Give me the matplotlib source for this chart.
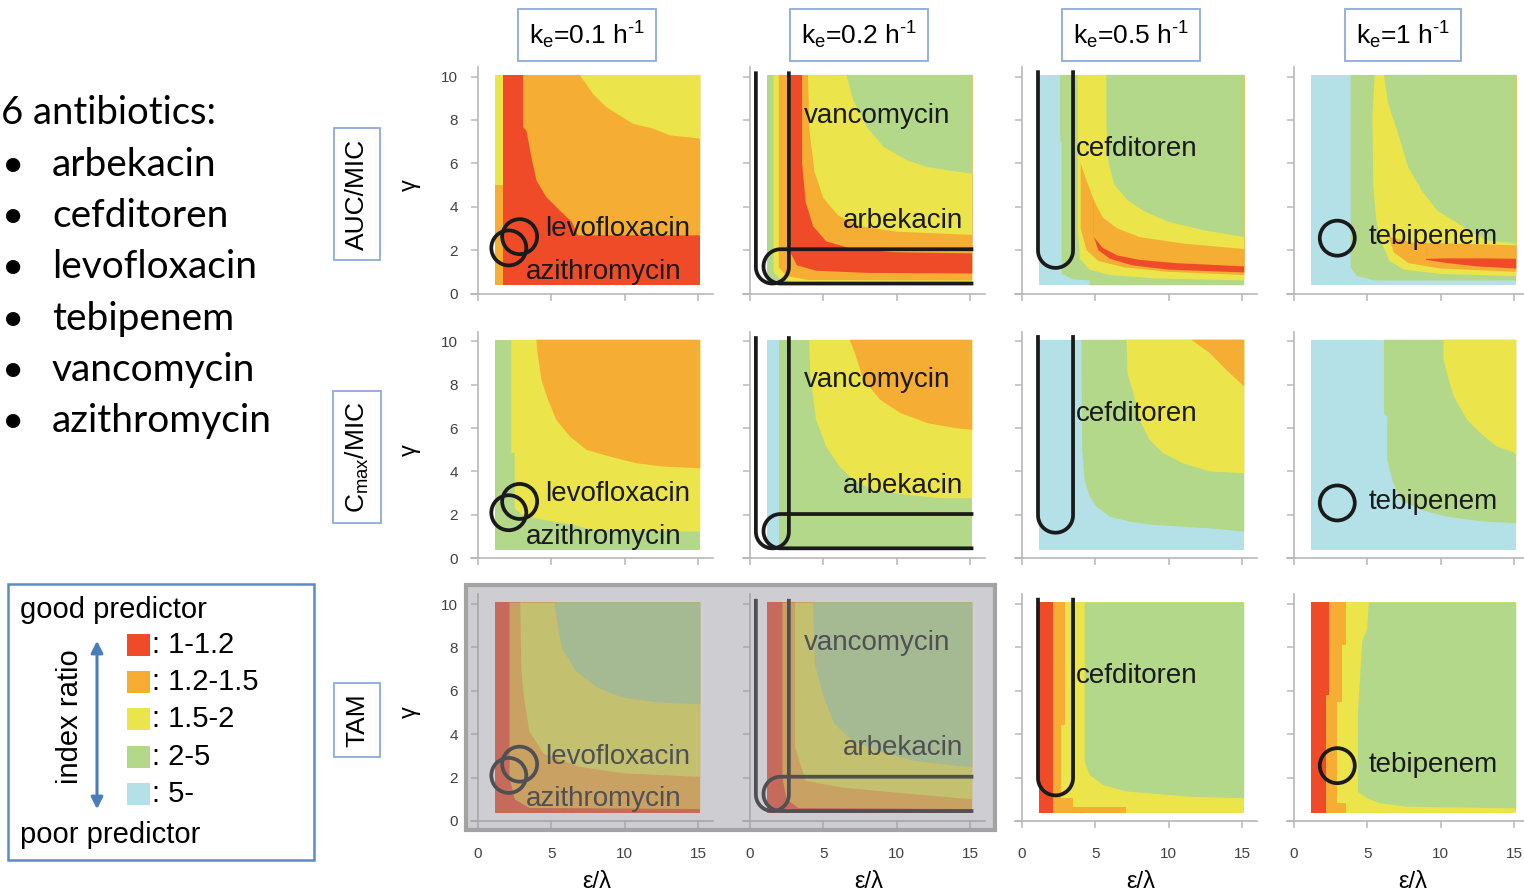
# 导入第三方库模块
import numpy as np
import matplotlib
matplotlib.use('Agg')
from matplotlib import pyplot as plt
from matplotlib.patches import Ellipse, Rectangle, FancyArrowPatch


# 画布尺寸（像素）
W, H = 1524, 894

# 全局字体设置
plt.rcParams['font.family'] = ['Liberation Sans', 'DejaVu Sans']
plt.rcParams['mathtext.default'] = 'regular'

# 计算区域的边界（ε/λ, γ）
X0, X1, Y0, Y1 = 1.15, 15.15, 0.38, 10.07

# 指标比值分级颜色
PALETTE = {
    'r': '#ef4b28', 'o': '#f5ad33', 'y': '#ebe54b',
    'g': '#b3d88a', 'b': '#b4e1e8',
}
LEVELS = ['r', 'o', 'y', 'g', 'b']
LEVEL_TEXT = [': 1-1.2', ': 1.2-1.5', ': 1.5-2', ': 2-5', ': 5-']

# 每一层：(颜色, 分界线)，分界线右上方填充该颜色
FULL = [(X0, Y1), (X0, Y0)]

AUC_KE01 = [
    ('o', FULL),
    ('y', [(X0, 4.98), (X1, 4.98)]),
    ('r', [(1.7, Y1), (1.7, Y0)]),
    ('o', [(3.07, Y1), (3.07, 7.67), (3.3, 7.5), (3.64, 6.29), (3.98, 5.21),
           (4.66, 4.44), (5.57, 3.83), (6.0, 3.55), (6.4, 3.3), (6.8, 2.68),
           (X1, 2.68)]),
    ('y', [(6.93, Y1), (7.84, 9.2), (8.75, 8.59), (9.66, 8.2), (10.57, 7.82),
           (11.93, 7.6), (13.07, 7.29), (X1, 7.14)]),
]
AUC_KE02 = [
    ('g', FULL),
    ('y', [(1.6, Y1), (1.6, 1.0), (2.0, 0.7), (3.0, 0.5), (X1, 0.45)]),
    ('o', [(1.96, Y1), (1.96, 1.2), (2.5, 0.8), (4.0, 0.62), (X1, 0.6)]),
    ('r', [(2.75, Y1), (2.75, 1.9), (3.2, 1.3), (4.5, 1.05), (8.0, 0.95),
           (X1, 0.92)]),
    ('o', [(3.55, Y1), (3.55, 6.0), (3.8, 4.2), (4.3, 3.1), (5.2, 2.4),
           (7.0, 2.05), (10.0, 1.9), (X1, 1.85)]),
    ('y', [(3.95, Y1), (4.05, 7.5), (4.4, 5.6), (5.0, 4.4), (6.0, 3.6),
           (7.5, 3.1), (10.0, 2.85), (X1, 2.7)]),
    ('g', [(6.58, Y1), (7.04, 8.9), (7.96, 7.67), (9.12, 6.75), (10.73, 6.13),
           (12.1, 5.83), (13.5, 5.67), (X1, 5.52)]),
]
AUC_KE05 = [
    ('b', FULL),
    ('g', [(2.6, Y1), (2.6, 7.0), (2.7, 7.0), (2.7, 0.9), (3.5, 0.65),
           (4.6, 0.6), (4.6, Y0)]),
    ('y', [(3.8, Y1), (3.8, 3.0), (3.95, 1.6), (4.6, 1.1), (6.0, 0.85),
           (9.0, 0.7), (X1, 0.6)]),
    ('o', [(4.0, 6.2), (4.0, 3.0), (4.4, 2.0), (5.2, 1.5), (7.0, 1.2),
           (10.0, 1.0), (X1, 0.85)]),
    ('r', [(4.9, 2.6), (5.2, 2.0), (6.0, 1.6), (7.5, 1.3), (10.0, 1.1),
           (X1, 0.97)]),
    ('o', [(4.9, Y1), (4.9, 2.6), (5.5, 2.1), (6.5, 1.75), (8.0, 1.55),
           (10.5, 1.4), (X1, 1.25)]),
    ('y', [(3.8, Y1), (3.9, 6.2), (4.4, 5.2), (4.9, 4.3), (5.5, 3.5),
           (6.5, 3.0), (8.0, 2.6), (11.0, 2.3), (X1, 2.05)]),
    ('g', [(5.75, Y1), (5.75, 7.8), (5.9, 6.0), (6.3, 5.0), (7.2, 4.3),
           (8.3, 3.8), (10.0, 3.3), (12.5, 2.9), (X1, 2.6)]),
]
AUC_KE1 = [
    ('b', FULL),
    ('g', [(3.86, Y1), (3.86, 1.2), (4.3, 0.8), (5.5, 0.6), (X1, 0.6)]),
    ('y', [(5.5, Y1), (5.35, 8.2), (5.4, 5.0), (5.6, 3.4), (5.9, 2.5),
           (6.5, 1.5), (7.5, 1.1), (10.0, 0.9), (X1, 0.8)]),
    ('o', [(6.4, 2.75), (6.8, 1.9), (7.8, 1.4), (10.0, 1.15), (X1, 1.0)]),
    ('r', [(9.0, 1.55), (10.5, 1.4), (12.5, 1.25), (X1, 1.15)]),
    ('o', [(9.0, Y1), (9.0, 1.6), (10.5, 1.62), (12.5, 1.62), (X1, 1.6)]),
    ('y', [(6.0, Y1), (6.0, 3.0), (6.6, 2.6), (8.0, 2.35), (X1, 2.22)]),
    ('g', [(6.13, Y1), (6.4, 8.8), (7.1, 7.36), (7.78, 5.83), (8.7, 4.75),
           (9.75, 3.83), (11.57, 3.06), (13.1, 2.45), (X1, 2.3)]),
]

CMAX_KE01 = [
    ('g', FULL),
    ('y', [(2.27, Y1), (2.27, 4.85), (2.5, 4.85), (2.5, 2.3), (3.0, 2.0),
           (4.5, 1.77), (6.0, 1.6), (8.0, 1.3), (X1, 1.23)]),
    ('o', [(3.98, Y1), (4.05, 9.5), (4.32, 8.23), (4.78, 7.3), (5.34, 6.38),
           (6.25, 5.62), (7.39, 5.0), (8.98, 4.69), (10.8, 4.38),
           (12.6, 4.23), (X1, 4.15)]),
]
CMAX_KE02 = [
    ('b', FULL),
    ('g', [(1.96, Y1), (1.96, 0.5), (3.3, 0.5), (3.3, Y0)]),
    ('y', [(4.04, Y1), (4.1, 8.5), (4.5, 6.4), (5.19, 5.15), (6.1, 4.23),
           (7.04, 3.62), (8.4, 3.15), (10.73, 2.92), (13.04, 2.77),
           (X1, 2.77)]),
    ('o', [(6.8, Y1), (7.15, 9.46), (7.73, 8.23), (8.89, 7.3), (10.27, 6.69),
           (12.1, 6.23), (14.0, 6.0), (X1, 5.92)]),
]
CMAX_KE05 = [
    ('b', FULL),
    ('g', [(4.05, Y1), (4.1, 5.0), (4.27, 3.6), (4.62, 2.84), (5.07, 2.38),
           (5.98, 1.92), (7.34, 1.69), (8.93, 1.54), (12.8, 1.38),
           (X1, 1.23)]),
    ('y', [(7.12, Y1), (7.2, 8.5), (7.6, 7.6), (8.02, 6.38), (8.7, 5.45),
           (9.61, 4.85), (10.98, 4.38), (12.8, 4.0), (X1, 3.92)]),
    ('o', [(11.55, Y1), (12.8, 9.46), (13.9, 8.7), (X1, 7.92)]),
]
CMAX_KE1 = [
    ('b', FULL),
    ('g', [(6.13, Y1), (6.13, 6.69), (6.35, 6.5), (6.35, 4.54), (6.69, 3.62),
           (7.26, 2.69), (8.62, 2.23), (10.43, 1.92), (12.93, 1.69),
           (X1, 1.62)]),
    ('y', [(10.2, Y1), (10.2, 9.15), (10.55, 8.23), (10.89, 7.46),
           (11.8, 6.38), (12.7, 5.77), (13.83, 5.15), (14.85, 4.92),
           (X1, 4.77)]),
]

TAM_KE01 = [
    ('r', FULL),
    ('o', [(2.15, Y1), (2.15, 2.0), (2.5, 1.0), (3.5, 0.6), (X1, 0.55)]),
    ('y', [(2.88, Y1), (2.95, 7.0), (3.13, 5.7), (3.5, 4.15), (4.47, 3.1),
           (6.9, 2.5), (9.85, 2.2), (X1, 2.03)]),
    ('g', [(5.2, Y1), (5.7, 8.0), (6.67, 6.92), (8.14, 6.15), (9.85, 5.69),
           (12.3, 5.46), (X1, 5.38)]),
]
TAM_KE02 = [
    ('r', FULL),
    ('o', [(2.21, Y1), (2.21, 2.0), (2.5, 1.0), (3.3, 0.6), (X1, 0.55)]),
    ('y', [(3.07, Y1), (3.07, 3.4), (3.8, 1.85), (6.3, 1.54), (11.2, 1.23),
           (X1, 1.0)]),
    ('g', [(4.3, Y1), (4.42, 7.23), (5.04, 5.69), (5.77, 4.46), (7.0, 3.69),
           (8.72, 3.23), (11.2, 2.77), (X1, 2.46)]),
]
TAM_KE05 = [
    ('r', FULL),
    ('o', [(2.12, Y1), (2.12, Y0)]),
    ('y', [(2.91, Y1), (2.91, 4.42), (2.68, 4.42), (2.68, 1.04), (3.48, 1.04),
           (3.48, 0.66), (7.11, 0.66), (7.11, Y0)]),
    ('g', [(4.27, Y1), (4.27, 2.73), (4.62, 2.12), (5.52, 1.66), (7.11, 1.36),
           (11.43, 1.12), (X1, 1.05)]),
]
TAM_KE1 = [
    ('r', FULL),
    ('o', [(2.38, Y1), (2.38, 5.81), (2.15, 5.81), (2.15, Y0)]),
    ('y', [(3.52, Y1), (3.52, 8.11), (3.29, 8.11), (3.29, 5.5), (2.95, 5.5),
           (2.95, 0.81), (3.52, 0.81), (3.52, Y0)]),
    ('g', [(5.1, Y1), (4.99, 8.88), (4.65, 8.27), (4.54, 7.04), (4.36, 5.0),
           (4.36, 1.35), (4.99, 1.04), (5.9, 0.81), (7.71, 0.66), (X1, 0.58)]),
]

PANELS = [
    [AUC_KE01, AUC_KE02, AUC_KE05, AUC_KE1],
    [CMAX_KE01, CMAX_KE02, CMAX_KE05, CMAX_KE1],
    [TAM_KE01, TAM_KE02, TAM_KE05, TAM_KE1],
]

# 行列标题
COL_TITLES = ['k$_{e}$=0.1 h$^{\u20101}$', 'k$_{e}$=0.2 h$^{\u20101}$',
              'k$_{e}$=0.5 h$^{\u20101}$', 'k$_{e}$=1 h$^{\u20101}$']
ROW_TITLES = ['AUC/MIC', r'C$_{max}$/MIC', 'TAM']

# 各药物的位置（ε/λ, γ）
CIRCLES = {0: [(2.84, 2.62), (2.1, 2.1)], 3: [(2.95, 2.55)]}
VANCO_U = (0.4, 2.65, 0.46, 10.15)     # 左, 右, 底, 顶
ARBEK_U = (0.92, 15.1, 0.46, 2.04)     # 左, 右, 底, 顶
CEFDI_U = (1.09, 3.48, 1.18, 10.2)     # 左, 右, 底, 顶
DRUG_LABELS = {
    0: [('levofloxacin', 4.55, 2.95), ('azithromycin', 3.25, 1.0)],
    1: [('vancomycin', 3.69, 8.2), ('arbekacin', 6.35, 3.35)],
    2: [('cefditoren', 3.7, 6.67)],
    3: [('tebipenem', 5.1, 2.6)],
}

ANTIBIOTICS = ['arbekacin', 'cefditoren', 'levofloxacin',
               'tebipenem', 'vancomycin', 'azithromycin']

# 版面位置（像素）
COL_X0 = [478, 750, 1022, 1294]
ROW_Y0 = [293.5, 558.3, 821]
SX, SY = 14.67, 21.7
XLIM, YLIM = (-0.5, 16.0), (0, 10.45)


def fx(px):
    return px / W


def fy(py):
    return 1 - py / H


# 绘制分级区域
def draw_layers(ax, layers):
    for key, curve in layers:
        xs = [p[0] for p in curve]
        ys = [p[1] for p in curve]
        last_y = ys[-1]
        xs += [X1, X1, xs[0]]
        ys += [last_y, Y1, Y1]
        ax.fill(xs, ys, color=PALETTE[key], lw=0, zorder=1)


# 竖直方向的U形框
def u_vertical(ax, spec, kx, ky):
    xl, xr, yb, yt = spec
    rx = (xr - xl) / 2
    ry = rx * kx / ky
    cx, cy = (xl + xr) / 2, yb + ry
    t = np.linspace(0, -np.pi, 40)
    xs = np.concatenate([[xr, xr], cx + rx * np.cos(t), [xl]])
    ys = np.concatenate([[yt, cy], cy + ry * np.sin(t), [yt]])
    ax.plot(xs, ys, color='#1a1a1a', lw=2.7, zorder=3,
            solid_joinstyle='round')


# 水平方向的U形框（右侧开口）
def u_horizontal(ax, spec, kx, ky):
    xl, xr, yb, yt = spec
    ry = (yt - yb) / 2
    rx = ry * ky / kx
    cx, cy = xl + rx, (yt + yb) / 2
    t = np.linspace(np.pi / 2, 3 * np.pi / 2, 40)
    xs = np.concatenate([[xr], cx + rx * np.cos(t), [xr]])
    ys = np.concatenate([[yt], cy + ry * np.sin(t), [yb]])
    ax.plot(xs, ys, color='#1a1a1a', lw=2.7, zorder=3,
            solid_joinstyle='round')


fig = plt.figure(figsize=(W / 100, H / 100), dpi=100)

# 逐个绘制 3x4 面板
for r in range(3):
    for c in range(4):
        ox, oy = COL_X0[c], ROW_Y0[r]
        left = ox + XLIM[0] * SX
        width = (XLIM[1] - XLIM[0]) * SX
        height = (YLIM[1] - YLIM[0]) * SY
        ax = fig.add_axes([fx(left), fy(oy), width / W, height / H])
        ax.set_xlim(*XLIM)
        ax.set_ylim(*YLIM)
        ax.patch.set_alpha(0)

        # 坐标轴样式
        for side in ['top', 'right']:
            ax.spines[side].set_visible(False)
        ax.spines['left'].set_position(('data', 0))
        for side in ['left', 'bottom']:
            ax.spines[side].set_color('#b8b8b8')
            ax.spines[side].set_linewidth(1.2)
        ax.set_xticks([0, 5, 10, 15])
        ax.set_yticks([0, 2, 4, 6, 8, 10])
        ax.tick_params(colors='#b8b8b8', length=5, width=1.1,
                       labelcolor='#404040', labelsize=11)
        ax.tick_params(axis='x', pad=14)
        ax.tick_params(axis='y', pad=9.5)
        if c != 0:
            ax.set_yticklabels([])
        if r != 2:
            ax.set_xticklabels([])

        draw_layers(ax, PANELS[r][c])

        kx = ax.bbox.width / (XLIM[1] - XLIM[0])
        ky = ax.bbox.height / (YLIM[1] - YLIM[0])

        # 药物标记
        for (cx, cy) in CIRCLES.get(c, []):
            ax.add_patch(Ellipse((cx, cy), 35 / kx, 35 / ky, fill=False,
                                 ec='#1a1a1a', lw=2.7, zorder=3))
        if c == 1:
            u_vertical(ax, VANCO_U, kx, ky)
            u_horizontal(ax, ARBEK_U, kx, ky)
        if c == 2:
            u_vertical(ax, CEFDI_U, kx, ky)
        for name, tx, ty in DRUG_LABELS[c]:
            ax.text(tx, ty, name, fontsize=20, color='#1a1a1a',
                    ha='left', va='center', zorder=4)

        # 坐标轴名称
        if c == 0:
            fig.text(fx(410), fy(oy - 5 * SY), 'γ', rotation=90,
                     fontsize=17, ha='center', va='center')
        if r == 2:
            fig.text(fx(ox + 119), fy(882), 'ε/λ', fontsize=17,
                     ha='center', va='center')

# 列标题
box_style = dict(boxstyle='square,pad=0.4', fc='white', ec='#8eaadb', lw=1.3)
for c, title in enumerate(COL_TITLES):
    fig.text(fx(COL_X0[c] + 109), fy(35), title, fontsize=19,
             ha='center', va='center', bbox=box_style)

# 行标题
ROW_CENTERS = [194, 457, 720]
for r, title in enumerate(ROW_TITLES):
    fig.text(fx(357), fy(ROW_CENTERS[r]), title, fontsize=19, rotation=90,
             ha='center', va='center', bbox=box_style)

# 左侧药物列表
LIST_FONT = ['Lato', 'DejaVu Sans']
fig.text(fx(1), fy(113), '6 antibiotics:', fontsize=27.5, family=LIST_FONT,
         ha='left', va='center')
for i, name in enumerate(ANTIBIOTICS):
    y = 165 + i * 51.2
    fig.text(fx(2), fy(y), '•', fontsize=27.5, family=LIST_FONT,
             ha='left', va='center')
    fig.text(fx(52), fy(y), name, fontsize=28, family=LIST_FONT,
             ha='left', va='center')

# 图例
fig.patches.append(Rectangle((fx(8), fy(860)), (314 - 8) / W, (860 - 584) / H,
                             transform=fig.transFigure, fill=False,
                             ec='#5b8ac6', lw=1.8))
fig.text(fx(20), fy(610), 'good predictor', fontsize=21,
         ha='left', va='center')
fig.text(fx(20), fy(835), 'poor predictor', fontsize=21,
         ha='left', va='center')
fig.text(fx(70), fy(717), 'index ratio', fontsize=21, rotation=90,
         ha='center', va='center')
fig.patches.append(FancyArrowPatch((fx(97), fy(812)), (fx(97), fy(638)),
                                   transform=fig.transFigure,
                                   arrowstyle='<|-|>,head_length=7,head_width=3.5',
                                   color='#4a7ebb', lw=2.2))
for i, key in enumerate(LEVELS):
    y = 645 + i * 37.2
    fig.patches.append(Rectangle((fx(127), fy(y + 11)), 23 / W, 22 / H,
                                 transform=fig.transFigure,
                                 fc=PALETTE[key], ec='none'))
    fig.text(fx(152), fy(y), LEVEL_TEXT[i], fontsize=21,
             ha='left', va='center')

# TAM 前两列的灰色遮罩
fig.patches.append(Rectangle((fx(466), fy(830)), (995 - 466) / W,
                             (830 - 585) / H, transform=fig.transFigure,
                             fc='#94949c', alpha=0.45, ec='none', zorder=5))
fig.patches.append(Rectangle((fx(466), fy(830)), (995 - 466) / W,
                             (830 - 585) / H, transform=fig.transFigure,
                             fill=False, ec='#a3a3a3', lw=3, zorder=6))

fig.savefig('out.png', dpi=100)
